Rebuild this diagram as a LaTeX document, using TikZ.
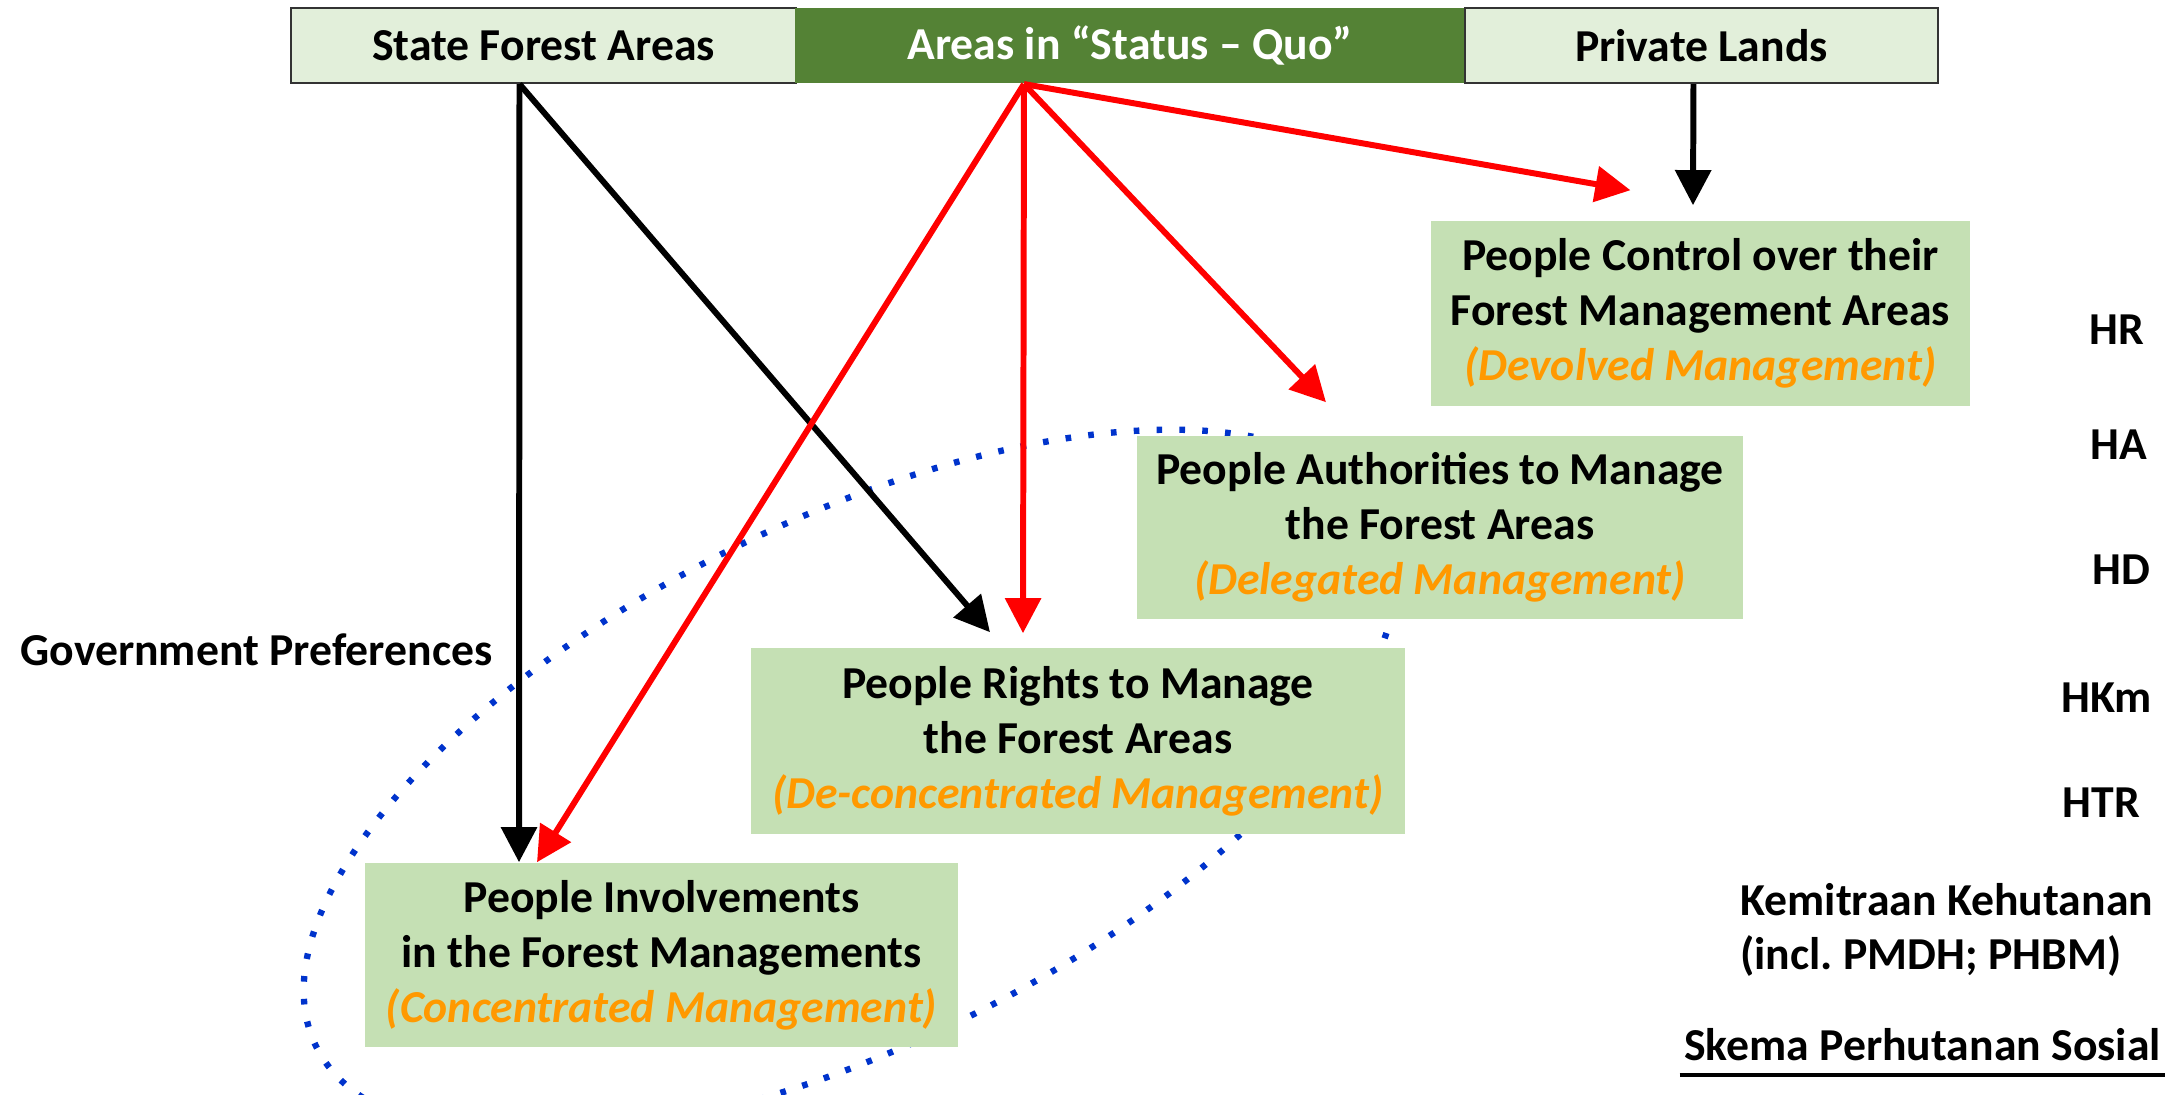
\documentclass[tikz,border=0pt]{standalone}
\usepackage{fontspec}
\setmainfont{Carlito}
\usetikzlibrary{arrows.meta,positioning,calc}
\definecolor{topfill}{HTML}{E2EFDA}
\definecolor{sqgreen}{HTML}{548235}
\definecolor{boxfill}{HTML}{C5E0B4}
\definecolor{mgmtorange}{HTML}{FF9900}
\definecolor{dotblue}{HTML}{0033CC}
\tikzset{font=\bfseries\fontsize{13}{15.6}\selectfont}
\tikzset{topbox/.style={draw=black!80,line width=0.6pt,fill=topfill,minimum height=0.75cm,inner sep=0pt}}
\tikzset{greenbox/.style={fill=boxfill,align=center,inner sep=0pt}}
\tikzset{link/.style={line width=1.7pt,-{Triangle[length=10pt,width=10pt]}}}
\newcommand{\mgmt}[1]{\textcolor{mgmtorange}{\itshape(#1)}}
\frenchspacing

\begin{document}
\begin{tikzpicture}[x=0.01cm,y=-0.01cm]
  \clip (0,0) rectangle (2177,1095);
  \coordinate (ring) at (850,783);
  \draw[dotblue,line width=1.8pt,dash pattern=on 1.6pt off 4.9pt,rotate around={26.3:(ring)}]
    (ring) ellipse [x radius=5.95cm,y radius=2.62cm];
  % top row
  \node[topbox,minimum width=5.05cm] (state) at (543.5,45.5) {State Forest Areas};
  \node[topbox,draw=none,fill=sqgreen,text=white,minimum width=6.7cm] (status) at (1130,45.5) {Areas in “Status -- Quo”};
  \node[topbox,minimum width=4.73cm] (private) at (1701.5,45.5) {Private Lands};
  % management boxes
  \node[greenbox,minimum width=5.39cm,minimum height=1.85cm] (control) at (1700.5,313.5)
    {People Control over their\\Forest Management Areas\\\mgmt{Devolved Management}};
  \node[greenbox,minimum width=6.06cm,minimum height=1.83cm] (authority) at (1440,527.5)
    {People Authorities to Manage\\the Forest Areas\\\mgmt{Delegated Management}};
  \node[greenbox,minimum width=6.54cm,minimum height=1.86cm] (rights) at (1078,741)
    {People Rights to Manage\\the Forest Areas\\\mgmt{De-concentrated Management}};
  \node[greenbox,minimum width=5.93cm,minimum height=1.84cm] (involve) at (661.5,955)
    {People Involvements\\in the Forest Managements\\\mgmt{Concentrated Management}};
  % labels
  \node (gov) at (256.5,650) {Government Preferences};
  \node (hr) at (2117,330) {HR};
  \node (ha) at (2118.5,445) {HA};
  \node (hd) at (2121,570) {HD};
  \node (hkm) at (2106.5,698) {HKm};
  \node (htr) at (2101.5,803) {HTR};
  \node[anchor=west,align=left] (kk) at (1728,930) {Kemitraan Kehutanan\\(incl. PMDH; PHBM)};
  \node (skema) at (1922.5,1045) {Skema Perhutanan Sosial};
  \draw[line width=1.2pt] ($(skema.base west)+(8,14)$) -- ($(skema.base east)+(-8,14)$);
  % arrows
  \draw[link] ($(state.south)+(-24,0)$) -- ($(involve.north)+(-142.5,0)$);
  \draw[link] ($(state.south)+(-24,0)$) -- ($(rights.north)+(-88,-15)$);
  \draw[link] ($(private.south)+(-8,0)$) -- ($(control.north)+(-7.5,-15)$);
  \draw[link,red] ($(status.south)+(-106,0)$) -- ($(involve.north)+(-124.5,0)$);
  \draw[link,red] ($(status.south)+(-106,0)$) -- ($(rights.north)+(-55,-14)$);
  \draw[link,red] ($(status.south)+(-106,0)$) -- ($(authority.north)+(-114,-33)$);
  \draw[link,red] ($(status.south)+(-106,0)$) -- ($(control.north)+(-70,-30)$);
\end{tikzpicture}
\end{document}
